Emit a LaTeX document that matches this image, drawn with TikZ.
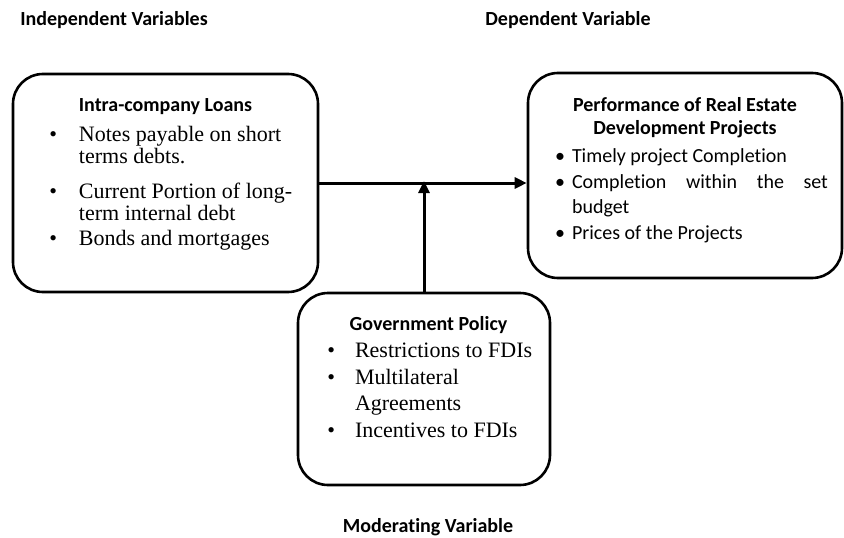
\documentclass[tikz,border=0pt]{standalone}
\usepackage{fontspec}
\usepackage{enumitem}
\setmainfont{Liberation Serif}
\newfontfamily\calibri[Ligatures=NoCommon]{Carlito}
\usetikzlibrary{positioning, arrows.meta}

% list layouts used inside the boxes
\newlist{serifitems}{itemize}{1}
\setlist[serifitems]{label=\textbullet, topsep=0pt, itemsep=0pt, parsep=0pt, partopsep=0pt}
\newlist{sansitems}{itemize}{1}
\setlist[sansitems]{label=\textbullet, topsep=0pt, itemsep=1pt, parsep=0pt, partopsep=0pt}

\tikzset{
>={Triangle[length=12pt,width=11pt]}, % filled arrow heads
varbox/.style={draw, line width=2.6pt, rounded corners=30pt, inner sep=0pt}, % the three variable boxes
heading/.style={font=\calibri\bfseries\fontsize{20}{24}\selectfont}, % bold captions
link/.style={->, line width=3pt}, % connectors between boxes
}

\begin{document}
\begin{tikzpicture}[x=1pt,y=-1pt]
    \useasboundingbox (0,0) rectangle (844,538);

    % captions
    \node[heading] (indep) at (114,20) {Independent Variables};
    \node[heading] (dep) at (568,20) {Dependent Variable};
    \node[heading] (mod) at (428,527) {Moderating Variable};

    % independent variable
    \node[varbox] (loans) at (165.5,183) {%
      \begin{minipage}[c][218pt][t]{305pt}
        \vspace*{25pt}
        \centering{\calibri\bfseries\fontsize{20}{24}\selectfont Intra-company Loans\par}
        \vspace{8pt}
        \fontsize{22}{22}\selectfont\raggedright
        \begin{serifitems}[leftmargin=66pt, labelsep=22pt, itemsep=3pt]
          \item Notes payable on short\\ terms debts.
          \vspace{10pt}
          \item Current Portion of long-\\ term internal debt
          \item Bonds and mortgages
        \end{serifitems}
      \end{minipage}};

    % dependent variable
    \node[varbox] (perf) at (685,175.5) {%
      \begin{minipage}[c][205pt][t]{314pt}
        \vspace*{24pt}
        \centering{\calibri\bfseries\fontsize{20}{23}\selectfont Performance of Real Estate\\ Development Projects\par}
        \vspace{3pt}
        \calibri\fontsize{20}{25}\selectfont
        \begin{sansitems}[leftmargin=44pt, labelsep=7pt, rightmargin=14pt]
          \item Timely project Completion
          \item Completion within the set \mbox{budget}
          \item Prices of the Projects
        \end{sansitems}
      \end{minipage}};

    % moderating variable
    \node[varbox] (policy) at (424,389) {%
      \begin{minipage}[c][192pt][t]{252pt}
        \vspace*{23pt}
        \centering{\calibri\bfseries\fontsize{20}{24}\selectfont\hspace*{9pt}Government Policy\par}
        \vspace{1pt}
        \fontsize{22}{26.5}\selectfont\raggedright
        \begin{serifitems}[leftmargin=57pt, labelsep=20pt]
          \item Restrictions to FDIs
          \item Multilateral\\ Agreements
          \item Incentives to FDIs
        \end{serifitems}
      \end{minipage}};

    \draw[link] (loans.east) -- (loans.east -| perf.west);
    \draw[link] (policy.north) -- ([yshift=2pt]policy.north |- loans.east);

\end{tikzpicture}
\end{document}
